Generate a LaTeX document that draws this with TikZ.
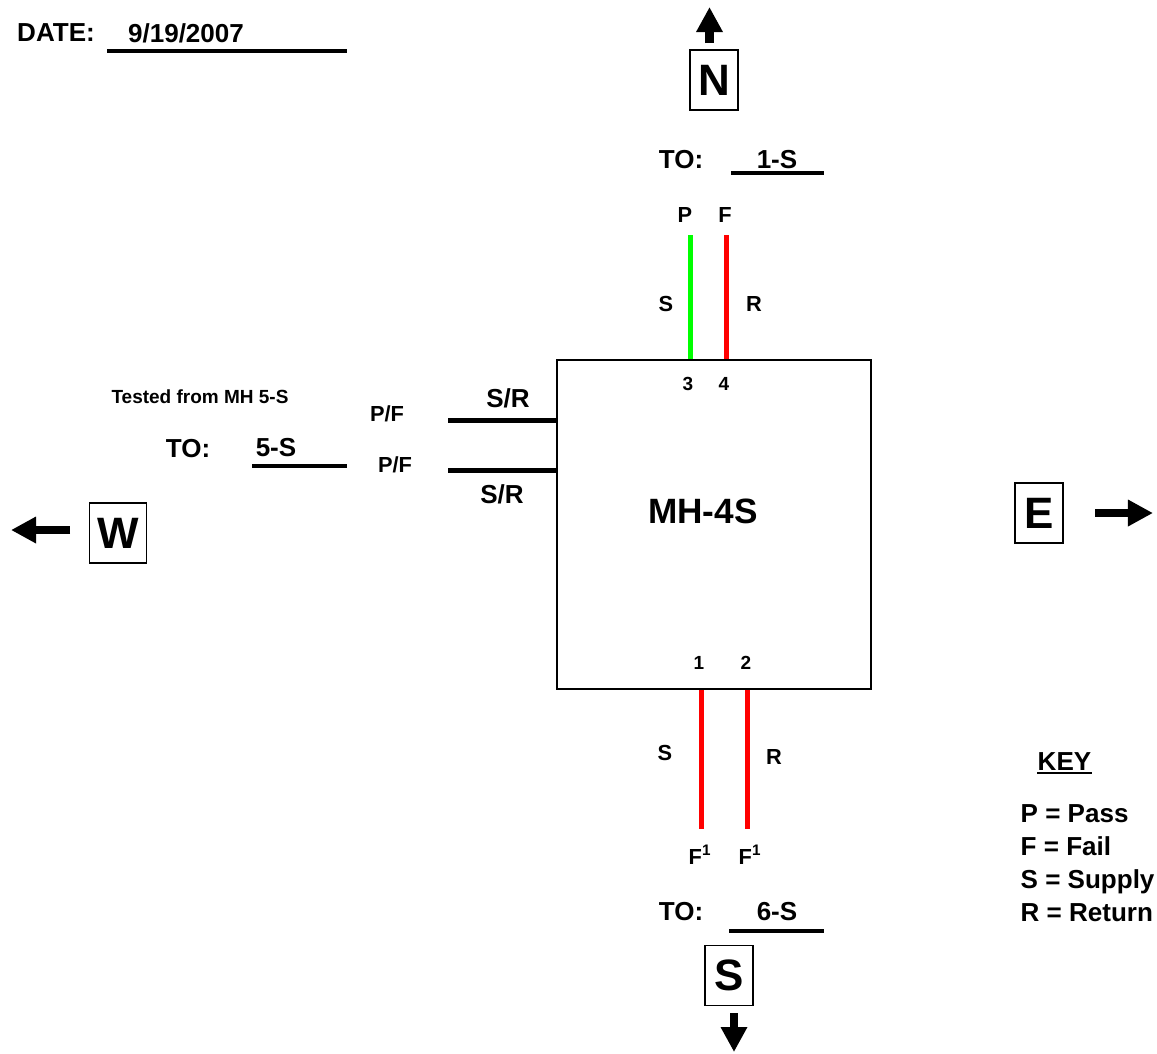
\documentclass[tikz,border=0pt]{standalone}
\usepackage{fontspec}
\setmainfont{Liberation Sans}
\usetikzlibrary{arrows.meta, positioning}

\begin{document}
\begin{tikzpicture}[x=0.01cm, y=-0.01cm,
    lbl/.style={font=\bfseries\fontsize{7.4}{9}\selectfont, inner sep=0pt},
    pinlbl/.style={font=\bfseries\fontsize{6.2}{7}\selectfont, inner sep=0pt},
    pinno/.style={font=\bfseries\fontsize{5.4}{6}\selectfont, inner sep=0pt},
    dirbox/.style={draw, line width=0.4pt, inner sep=0pt, minimum width=0.48cm,
      minimum height=0.6cm, font=\bfseries\fontsize{12.5}{14}\selectfont},
    dirarrow/.style={line width=0.085cm, -{Triangle[length=0.25cm, width=0.25cm]}},
    uline/.style={line width=0.035cm},
    pipe/.style={line width=0.05cm}]
    \useasboundingbox (0,0) rectangle (1157,1053);

    % date
    \node[lbl] (datelbl) at (56,33) {DATE:};
    \node[lbl] (date) at (186,33) {9/19/2007};
    \draw[uline] (107,51) -- (347,51);

    % manhole
    \node[draw, line width=0.6pt, minimum width=3.14cm, minimum height=3.29cm] (mh) at (714,524.5) {};
    \node[font=\bfseries\fontsize{10}{12}\selectfont, inner sep=0pt] (mhname) at (703,511) {MH-4S};

    % north
    \node[dirbox] (north) at (714,80) {N};
    \draw[dirarrow] (709.5,43) -- (709.5,7);
    \node[lbl] (nto) at (681,160) {TO:};
    \node[lbl] (nmh) at (777,160) {1-S};
    \draw[uline] (731,173) -- (824,173);
    \coordinate (p3) at (690.5,235);
    \coordinate (p4) at (726,235);
    \draw[pipe, green] (p3) -- (p3 |- mh.north);
    \draw[pipe, red] (p4) -- (p4 |- mh.north);
    \node[pinlbl] (np) at (685,215) {P};
    \node[pinlbl] (nf) at (725,215) {F};
    \node[pinlbl] (ns) at (666,304) {S};
    \node[pinlbl] (nr) at (754,304) {R};
    \node[pinno] (n3) at (688,384) {3};
    \node[pinno] (n4) at (724,384) {4};

    % west
    \node[pinno] (tested) at (200,397) {Tested from MH 5-S};
    \node[lbl] (wto) at (188,449) {TO:};
    \node[lbl] (wmh) at (276,448) {5-S};
    \draw[uline] (252,466) -- (347,466);
    \coordinate (w1) at (448,420);
    \coordinate (w2) at (448,470);
    \draw[pipe] (w1) -- (w1 -| mh.west);
    \draw[pipe] (w2) -- (w2 -| mh.west);
    \node[lbl] (wsr1) at (508,398) {S/R};
    \node[pinlbl] (wpf1) at (387,414) {P/F};
    \node[pinlbl] (wpf2) at (395,465) {P/F};
    \node[lbl] (wsr2) at (502,494) {S/R};
    \node[dirbox, minimum width=0.57cm] (west) at (118,533) {W};
    \draw[dirarrow] (70,530) -- (11,530);

    % east
    \node[dirbox] (east) at (1039,513) {E};
    \draw[dirarrow] (1095,513) -- (1153,513);

    % south
    \coordinate (p1) at (701,829);
    \coordinate (p2) at (747.5,829);
    \draw[pipe, red] (p1 |- mh.south) -- (p1);
    \draw[pipe, red] (p2 |- mh.south) -- (p2);
    \node[pinno] (n1) at (699,663) {1};
    \node[pinno] (n2) at (746,663) {2};
    \node[pinlbl] (ss) at (665,753) {S};
    \node[pinlbl] (sr) at (774,757) {R};
    \node[pinlbl, anchor=base west] (sf1) at (688,864) {F\textsuperscript{1}};
    \node[pinlbl, anchor=base west] (sf2) at (738,864) {F\textsuperscript{1}};
    \node[lbl] (sto) at (681,912) {TO:};
    \node[lbl] (smh) at (777,912) {6-S};
    \draw[uline] (729,931) -- (824,931);
    \node[dirbox] (south) at (729,975.5) {S};
    \draw[dirarrow] (734,1013) -- (734,1052);

    % key
    \node[lbl, anchor=base west] (key) at (1037,770) {KEY};
    \draw[line width=0.025cm] ([yshift=-0.03cm]key.base west) -- ([yshift=-0.03cm]key.base east);
    \node[lbl, anchor=base west] (kp) at (1020,822) {P = Pass};
    \node[lbl, anchor=base west] (kf) at (1020,855) {F = Fail};
    \node[lbl, anchor=base west] (ks) at (1020,888) {S = Supply};
    \node[lbl, anchor=base west] (kr) at (1020,921) {R = Return};
\end{tikzpicture}
\end{document}
